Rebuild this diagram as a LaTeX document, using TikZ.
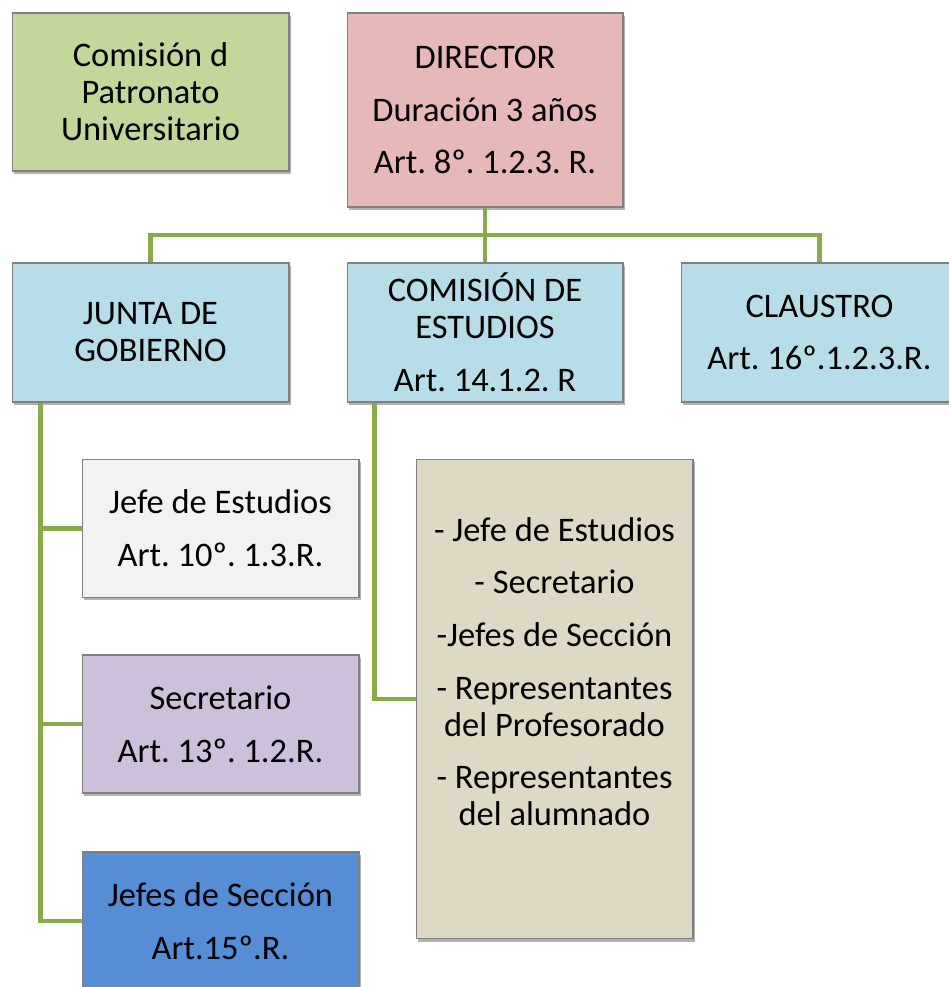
\documentclass[tikz,border=0pt]{standalone}
\usepackage{fontspec}
\setmainfont{Carlito}
\usepackage{tikz}
\usetikzlibrary{calc, shadows}
\definecolor{patrongreen}{RGB}{196, 215, 155}
\definecolor{dirpink}{RGB}{230, 185, 184}
\definecolor{orglblue}{RGB}{183, 222, 232}
\definecolor{jefegray}{RGB}{242, 242, 242}
\definecolor{secpurple}{RGB}{204, 192, 218}
\definecolor{secblue}{RGB}{85, 142, 213}
\definecolor{listtan}{RGB}{221, 217, 196}
\definecolor{linkgreen}{RGB}{137, 170, 75}
\definecolor{edgegray}{RGB}{128, 128, 128}
\tikzset{
  orgbox/.style={draw=edgegray, line width=0.6pt, minimum width=5.54cm, align=center, inner sep=4pt,
    font=\fontsize{19.6}{21}\selectfont,
    drop shadow={shadow xshift=1.2pt, shadow yshift=-1.5pt, opacity=0.3, fill=black}},
  link/.style={draw=linkgreen, line width=2.6pt}
}
\frenchspacing
\begin{document}
\begin{tikzpicture}[x=0.02cm, y=-0.02cm]
  \useasboundingbox (0,0) rectangle (948,987);

  % Top row
  \node[orgbox, fill=patrongreen, minimum height=3.16cm] (patronato) at (150.5, 92) {Comisión d\\Patronato\\Universitario};
  \node[orgbox, fill=dirpink, minimum width=5.52cm, minimum height=3.88cm] (director) at (485, 110) {DIRECTOR\\[9pt]Duración 3 años\\[9pt]Art. 8º. 1.2.3. R.};

  % Second row
  \node[orgbox, fill=orglblue, minimum height=2.78cm] (junta) at (150.5, 332.5) {JUNTA DE\\GOBIERNO};
  \node[orgbox, fill=orglblue, minimum width=5.52cm, minimum height=2.78cm] (comision) at (485, 332.5) {COMISIÓN DE\\ESTUDIOS\\[9pt]Art. 14.1.2. R};
  \node[orgbox, fill=orglblue, minimum height=2.78cm] (claustro) at (819.5, 332.5) {CLAUSTRO\\[9pt]Art. 16º.1.2.3.R.};

  % Under the Junta
  \node[orgbox, fill=jefegray, minimum height=2.76cm] (jefeest) at (220.5, 528.5) {Jefe de Estudios\\[9pt]Art. 10º. 1.3.R.};
  \node[orgbox, fill=secpurple, minimum height=2.76cm] (secre) at (220.5, 724) {Secretario\\[9pt]Art. 13º. 1.2.R.};
  \node[orgbox, fill=secblue, minimum height=2.76cm] (jefesec) at (220.5, 921) {Jefes de Sección\\[9pt]Art.15º.R.};

  % Members of the Comision de Estudios
  \node[orgbox, fill=listtan, minimum height=9.6cm] (miembros) at (554.5, 699) {};
  \node[font=\fontsize{19.6}{21}\selectfont, align=center] (miembrostxt) at (554.5, 671.5) {
    - Jefe de Estudios\\[9pt]
    - Secretario\\[9pt]
    -Jefes de Sección\\[9pt]
    - Representantes\\del Profesorado\\[9pt]
    - Representantes\\del alumnado
  };

  % Connectors
  \coordinate (bar) at (485, 235);
  \coordinate (jtrunk) at ($(junta.south west)+(29,0)$);
  \coordinate (ctrunk) at ($(comision.south west)+(28,0)$);
  \draw[link] (director.south) -- (comision.north);
  \draw[link] (junta.north) |- (bar) -| (claustro.north);
  \draw[link] (jtrunk) |- (jefeest.west);
  \draw[link] (jtrunk) |- (secre.west);
  \draw[link] (jtrunk) |- (jefesec.west);
  \draw[link] (ctrunk) |- (miembros.west);
\end{tikzpicture}
\end{document}
